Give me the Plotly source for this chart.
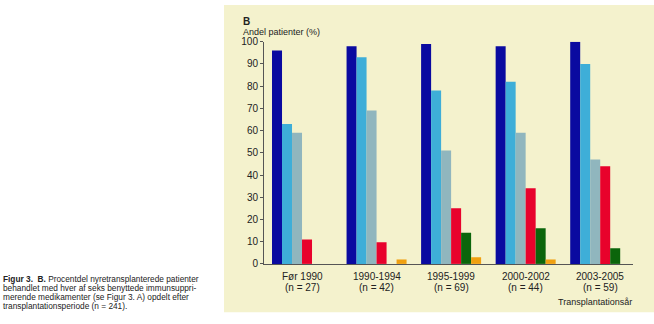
import plotly.graph_objects as go

period_labels = ["Før 1990", "1990-1994", "1995-1999", "2000-2002", "2003-2005"]
n_labels = ["(n = 27)", "(n = 42)", "(n = 69)", "(n = 44)", "(n = 59)"]
series_names = ["Lægemiddel 1", "Lægemiddel 2", "Lægemiddel 3",
                "Lægemiddel 4", "Lægemiddel 5", "Lægemiddel 6"]
s1 = [96, 98, 99, 98, 100]
s2 = [63, 93, 78, 82, 90]
s3 = [59, 69, 51, 59, 47]
s4 = [11, 9.7, 25, 34, 44]
s5 = [0, 0, 14, 16, 7]
s6 = [0, 2, 3, 2, 0]
colors = ["#0a0aa0", "#3eaed8", "#90b6be", "#e8022c", "#0b650b", "#f0a010"]
y_ticks = list(range(0, 101, 10))

W, H = 654, 324
xs = list(range(len(period_labels)))
fig = go.Figure()
for name, vals, c in zip(series_names, [s1, s2, s3, s4, s5, s6], colors):
    fig.add_trace(go.Bar(x=xs, y=vals, name=name,
                         marker=dict(color=c, line=dict(width=0))))

font = "Liberation Sans, Arial, sans-serif"
x0, x1 = 264, 633
y0, y1 = 268, 38
fig.update_layout(
    width=W, height=H, margin=dict(l=0, r=0, t=0, b=0),
    paper_bgcolor="white", plot_bgcolor="rgba(0,0,0,0)",
    barmode="group", bargap=0.195, bargroupgap=0,
    showlegend=False,
    font=dict(family=font, size=10, color="#222"),
    xaxis=dict(domain=[x0 / W, x1 / W], range=[-0.51, 4.44],
               tickmode="array", tickvals=xs, showticklabels=False,
               showline=True, linecolor="#555", linewidth=1, ticks="", showgrid=False,
               zeroline=False),
    yaxis=dict(domain=[(H - y0) / H, (H - y1) / H], range=[0, 100],
               tickmode="array", tickvals=y_ticks,
               showline=True, linecolor="#555", linewidth=1, ticks="outside", ticklen=3,
               tickcolor="#555", showgrid=False, zeroline=False,
               tickfont=dict(size=10, color="#222", family=font)),
    shapes=[dict(type="rect", xref="paper", yref="paper",
                 x0=224 / W, x1=1, y0=(H - 318) / H, y1=1,
                 fillcolor="#f4f2cd", line=dict(width=0), layer="below")],
)

def ann(text, x, y, xanchor="left", size=9, bold=False):
    fig.add_annotation(text=("<b>%s</b>" % text) if bold else text,
                       x=x / W, y=(H - y) / H, xref="paper", yref="paper",
                       xanchor=xanchor, yanchor="middle", showarrow=False,
                       font=dict(size=size, color="#222", family=font))

# category labels placed on the x scale
for i, (p, n) in enumerate(zip(period_labels, n_labels)):
    for txt, yy in ((p, 281), (n, 292)):
        fig.add_annotation(text=txt, x=i, xref="x", y=(H - yy) / H, yref="paper",
                           xanchor="center", yanchor="middle", showarrow=False,
                           font=dict(size=10, color="#222", family=font))

ann("B", 241, 17, size=10, bold=True)
ann("Andel patienter (%)", 241, 28, size=9)
ann("Transplantationsår", 634, 307, xanchor="right", size=9)

cap = [
    "<b>Figur 3.  B.</b> Procentdel nyretransplanterede patienter",
    "behandlet med hver af seks benyttede immunsuppri-",
    "merende medikamenter (se Figur 3. A) opdelt efter",
    "transplantationsperiode (n = 241).",
]
for i, line in enumerate(cap):
    ann(line, 1, 283.5 + i * 9.2, size=8.3)

fig.write_html("out.html")
